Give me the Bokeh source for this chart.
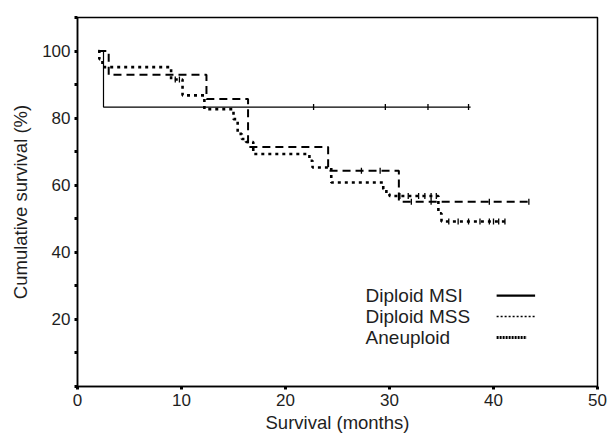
import numpy as np
from bokeh.plotting import figure
from bokeh.models import Range1d, FixedTicker, ColumnDataSource
from bokeh.core.properties import value
from bokeh.embed import file_html
from bokeh.resources import INLINE

# ---------------- data ----------------
# Diploid MSI
msi_time = [2.0, 2.5, 37.8]
msi_surv = [100, 83.3, 83.3]
msi_cens_time = [22.7, 29.6, 33.7, 37.6]
msi_cens_surv = [83.3, 83.3, 83.3, 83.3]

# Diploid MSS
mss_time = [2.0, 3.0, 12.4, 16.4, 24.1, 30.9, 43.5]
mss_surv = [100, 92.9, 85.7, 71.4, 64.3, 55.1, 55.1]
mss_cens_time = [27.3, 29.1, 32.1, 34.0, 39.6, 43.4]
mss_cens_surv = [64.3, 64.3, 55.1, 55.1, 55.1, 55.1]

# Aneuploid
an_time = [2.0, 2.1, 2.4, 9.0, 10.1, 12.2, 15.0, 15.4, 15.8, 16.2, 16.9,
           22.3, 22.6, 24.4, 29.4, 29.7, 30.0, 34.7, 35.0, 41.3]
an_surv = [100, 97.6, 95.2, 91.5, 86.8, 82.7, 79.7, 75.3, 73.8, 72.9, 69.3,
           67.3, 65.3, 60.8, 58.9, 57.4, 56.8, 51.6, 49.2, 49.2]
an_cens_time = [9.4, 9.8, 31.0, 31.8, 32.8, 33.4, 34.0, 34.5,
                35.7, 36.6, 37.6, 38.7, 39.6, 40.0, 40.5, 41.1]
an_cens_surv = [91.5, 91.5, 56.8, 56.8, 56.8, 56.8, 56.8, 56.8,
                49.2, 49.2, 49.2, 49.2, 49.2, 49.2, 49.2, 49.2]

series_labels = ["Diploid MSI", "Diploid MSS", "Aneuploid"]
x_ticks = [0, 10, 20, 30, 40, 50]
y_ticks = [20, 40, 60, 80, 100]
y_minor_ticks = [0, 10, 30, 50, 70, 90, 110]

FONT = "Liberation Sans"
TXT = "#1e1e1e"

p = figure(width=607, height=436, x_range=Range1d(0, 50), y_range=Range1d(0, 110),
           output_backend="svg", toolbar_location=None,
           min_border_left=77, min_border_right=10, min_border_top=17, min_border_bottom=50)
p.grid.visible = False
p.outline_line_color = "black"
p.outline_line_width = 1.5
p.outline_line_alpha = 1.0
p.background_fill_color = "white"
p.border_fill_color = "white"

for ax in (p.xaxis[0], p.yaxis[0]):
    ax.axis_line_color = "black"
    ax.axis_line_width = 1.5
    ax.major_tick_in = 0
    ax.major_tick_out = 3
    ax.major_tick_line_width = 3
    ax.minor_tick_in = 0
    ax.minor_tick_out = 3
    ax.minor_tick_line_width = 3
    ax.major_label_text_font = FONT
    ax.major_label_text_font_size = "17px"
    ax.major_label_text_color = TXT
    ax.axis_label_text_font = FONT
    ax.axis_label_text_font_size = "18.5px"
    ax.axis_label_text_font_style = "normal"
    ax.axis_label_text_color = TXT

p.xaxis.ticker = FixedTicker(ticks=x_ticks, minor_ticks=[])
p.yaxis.ticker = FixedTicker(ticks=y_ticks, minor_ticks=y_minor_ticks)
p.xaxis.axis_label = "Survival (months)"
p.yaxis.axis_label = "Cumulative survival (%)"
p.xaxis.major_label_standoff = 4
p.xaxis.axis_label_standoff = 3
p.yaxis.major_label_standoff = 4
p.yaxis.axis_label_standoff = 8

# curves
p.step(msi_time, msi_surv, mode="after", line_color="black", line_width=1.2)
p.step(mss_time, mss_surv, mode="after", line_color="black", line_width=2, line_dash="8 5")
p.step(an_time, an_surv, mode="after", line_color="black", line_width=2.6, line_dash="3 4")

# censor marks
for ct, cs in ((msi_cens_time, msi_cens_surv), (mss_cens_time, mss_cens_surv),
               (an_cens_time, an_cens_surv)):
    p.scatter(ct, cs, marker="dash", angle=np.pi / 2, size=6,
              line_color="black", line_width=1.3)

# legend (text on the left, line sample on the right)
leg_x_text = 27.7
leg_y0 = 27.1
leg_dy = 6.25
leg_x0, leg_x1 = 40.3, 44.0
rows_y = [leg_y0 - i * leg_dy for i in range(len(series_labels))]
src = ColumnDataSource(dict(x=[leg_x_text] * len(series_labels), y=rows_y, t=series_labels))
p.text(x="x", y="y", text="t", source=src, text_font=value(FONT), text_font_size="19px",
       text_baseline="middle", text_align="left", text_color=TXT)
p.line([leg_x0, leg_x1], [rows_y[0]] * 2, line_color="black", line_width=2.2)
p.line([leg_x0, leg_x1], [rows_y[1]] * 2, line_color="black", line_width=1.6, line_dash="2 2")
p.line([leg_x0, leg_x1 - 0.8], [rows_y[2]] * 2, line_color="black", line_width=3, line_dash="2 1")

open("out.html", "w").write(file_html(p, INLINE))
